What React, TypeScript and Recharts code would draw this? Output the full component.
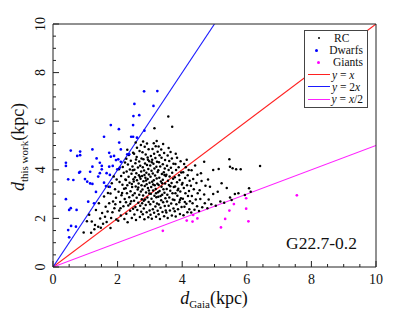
import { Legend, ReferenceLine, Scatter, ScatterChart, XAxis, YAxis } from 'recharts';

// distances, [d_Gaia, d_this_work] in kpc
const rcPoints: [number, number][] = [
  [0.95, 1.42], [1.05, 1.88], [1.18, 1.41], [1.2, 1.87], [1.12, 2.15],
  [1.3, 1.73], [1.4, 1.66], [1.46, 2.0], [1.33, 2.35], [1.42, 2.62], [1.28, 1.55], [1.48, 1.62],
  [1.61, 2.07], [1.69, 2.28], [1.63, 2.48], [1.74, 2.62], [1.55, 1.78], [1.58, 2.9], [1.7, 3.05], [1.52, 2.22], [1.66, 1.85], [1.72, 3.3],
  [1.78, 1.6], [1.8, 2.02], [1.84, 2.25], [1.9, 2.42], [1.86, 2.7], [1.95, 2.85], [1.78, 3.02], [1.92, 3.2], [1.82, 3.45], [1.97, 3.6], [1.88, 3.72], [1.96, 1.95], [1.93, 2.58],
  [2.02, 1.9], [2.1, 2.12], [2.05, 2.32], [2.18, 2.5], [2.08, 2.68], [2.22, 2.8], [2.12, 2.95], [2.03, 3.1], [2.2, 3.22], [2.15, 3.38],
  [2.06, 3.5], [2.24, 3.6], [2.11, 3.75], [2.19, 3.88], [2.04, 4.02], [2.16, 4.12], [2.23, 4.3], [2.09, 2.42], [2.21, 1.98], [2.14, 3.05],
  [2.31, 1.84], [2.44, 2.02], [2.27, 2.19], [2.39, 2.31], [2.48, 2.4], [2.33, 2.53], [2.26, 2.66], [2.42, 2.71], [2.36, 2.87], [2.47, 2.95],
  [2.29, 3.03], [2.4, 3.12], [2.45, 3.29], [2.3, 3.36], [2.37, 3.47], [2.26, 3.58], [2.49, 3.61], [2.34, 3.71], [2.43, 3.84], [2.28, 3.93],
  [2.38, 4.01], [2.46, 4.14], [2.32, 4.22], [2.41, 4.37], [2.27, 4.45], [2.35, 4.61], [2.48, 4.7], [2.3, 4.83], [2.44, 3.42], [2.39, 2.6],
  [2.25, 3.24], [2.47, 3.98],
  [2.57, 1.93], [2.69, 2.06], [2.52, 2.16], [2.73, 2.27], [2.61, 2.35], [2.55, 2.47], [2.7, 2.52], [2.64, 2.64], [2.51, 2.73], [2.75, 2.79],
  [2.59, 2.85], [2.67, 2.97], [2.53, 3.04], [2.72, 3.11], [2.62, 3.19], [2.56, 3.31], [2.74, 3.36], [2.65, 3.44], [2.5, 3.52], [2.6, 3.57],
  [2.71, 3.63], [2.54, 3.69], [2.66, 3.78], [2.58, 3.86], [2.73, 3.93], [2.52, 4.0], [2.63, 4.09], [2.7, 4.17], [2.55, 4.27], [2.67, 4.34],
  [2.74, 4.47], [2.59, 4.53], [2.51, 4.66], [2.68, 4.77], [2.6, 4.91], [2.72, 5.02], [2.56, 5.12], [2.64, 3.27], [2.69, 3.71], [2.57, 4.42],
  [2.83, 1.96], [2.95, 2.05], [2.78, 2.17], [2.9, 2.25], [2.99, 2.33], [2.81, 2.41], [2.87, 2.55], [2.76, 2.62], [2.96, 2.67], [2.85, 2.78],
  [2.92, 2.86], [2.79, 2.94], [2.98, 3.02], [2.88, 3.07], [2.77, 3.19], [2.94, 3.25], [2.84, 3.33], [2.9, 3.41], [2.99, 3.47], [2.8, 3.53],
  [2.93, 3.62], [2.86, 3.67], [2.76, 3.75], [2.97, 3.81], [2.89, 3.88], [2.82, 3.97], [2.95, 4.03], [2.78, 4.11], [2.91, 4.2], [2.85, 4.26],
  [2.98, 4.35], [2.8, 4.43], [2.93, 4.51], [2.87, 4.63], [2.77, 4.72], [2.96, 4.85], [2.84, 4.95], [2.91, 5.08], [2.79, 5.16], [2.88, 3.56],
  [2.97, 3.15], [2.83, 3.79], [2.94, 4.41], [2.81, 2.73],
  [3.06, 1.99], [3.19, 2.07], [3.02, 2.15], [3.13, 2.23], [3.24, 2.31], [3.09, 2.38], [3.17, 2.49], [3.01, 2.58], [3.22, 2.61], [3.11, 2.69],
  [3.05, 2.81], [3.2, 2.87], [3.14, 2.93], [3.03, 3.01], [3.25, 3.08], [3.1, 3.15], [3.18, 3.21], [3.04, 3.29], [3.15, 3.36], [3.23, 3.43],
  [3.07, 3.51], [3.12, 3.57], [3.21, 3.64], [3.02, 3.71], [3.16, 3.77], [3.09, 3.85], [3.24, 3.91], [3.05, 3.96], [3.14, 4.05], [3.2, 4.13],
  [3.01, 4.18], [3.11, 4.25], [3.22, 4.33], [3.07, 4.41], [3.17, 4.49], [3.03, 4.57], [3.13, 4.66], [3.24, 4.74], [3.08, 4.86], [3.18, 4.97],
  [3.12, 5.09], [3.21, 5.19], [3.14, 5.71], [3.1, 3.4], [3.19, 3.03], [3.06, 4.31],
  [3.31, 1.98], [3.44, 2.09], [3.27, 2.17], [3.39, 2.26], [3.49, 2.33], [3.33, 2.44], [3.46, 2.51], [3.28, 2.57], [3.41, 2.66], [3.35, 2.75],
  [3.48, 2.83], [3.26, 2.89], [3.38, 2.97], [3.45, 3.06], [3.3, 3.13], [3.42, 3.2], [3.36, 3.3], [3.27, 3.37], [3.47, 3.44], [3.34, 3.52],
  [3.4, 3.59], [3.29, 3.67], [3.49, 3.74], [3.37, 3.83], [3.43, 3.9], [3.26, 3.98], [3.46, 4.05], [3.32, 4.14], [3.4, 4.23], [3.28, 4.31],
  [3.47, 4.4], [3.36, 4.5], [3.3, 4.6], [3.44, 4.69], [3.35, 4.84], [3.27, 4.96], [3.41, 5.06], [3.38, 3.45], [3.33, 2.92], [3.45, 3.79],
  [3.55, 2.02], [3.68, 2.12], [3.51, 2.24], [3.62, 2.33], [3.73, 2.41], [3.58, 2.52], [3.66, 2.61], [3.53, 2.7], [3.71, 2.78], [3.6, 2.86],
  [3.54, 2.97], [3.7, 3.04], [3.63, 3.14], [3.52, 3.21], [3.74, 3.29], [3.59, 3.37], [3.67, 3.46], [3.56, 3.55], [3.72, 3.63], [3.61, 3.72],
  [3.51, 3.8], [3.69, 3.88], [3.58, 3.99], [3.65, 4.08], [3.53, 4.17], [3.73, 4.25], [3.6, 4.36], [3.68, 4.47], [3.55, 4.59], [3.64, 4.73],
  [3.58, 4.9], [3.57, 6.19], [3.69, 5.77], [3.63, 3.32],
  [3.8, 2.08], [3.93, 2.18], [3.77, 2.29], [3.87, 2.38], [3.98, 2.47], [3.82, 2.58], [3.91, 2.66], [3.76, 2.76], [3.96, 2.83], [3.85, 2.93],
  [3.79, 3.03], [3.94, 3.11], [3.88, 3.22], [3.78, 3.31], [3.99, 3.39], [3.84, 3.49], [3.92, 3.58], [3.77, 3.69], [3.9, 3.78], [3.97, 3.89],
  [3.81, 3.99], [3.89, 4.1], [3.79, 4.24], [3.95, 4.35], [3.84, 4.5], [3.8, 4.66], [3.86, 3.16], [3.93, 2.76],
  [4.04, 2.13], [4.16, 2.25], [4.22, 2.38], [4.07, 2.48], [4.13, 2.6], [4.24, 2.71], [4.02, 2.81], [4.18, 2.92], [4.1, 3.04], [4.21, 3.13],
  [4.05, 3.25], [4.15, 3.36], [4.01, 3.46], [4.23, 3.55], [4.09, 3.66], [4.17, 3.78], [4.03, 3.9], [4.2, 3.99], [4.11, 4.11], [4.06, 4.24],
  [4.14, 4.41], [4.08, 2.68],
  [4.28, 2.24], [4.38, 2.36], [4.46, 2.5], [4.32, 2.62], [4.42, 2.78], [4.3, 2.92], [4.48, 3.04], [4.36, 3.2], [4.27, 3.34], [4.44, 3.46],
  [4.34, 3.62], [4.47, 3.8], [4.29, 3.98], [4.4, 4.18],
  [4.52, 2.3], [4.62, 2.46], [4.7, 2.62], [4.56, 2.8], [4.68, 2.98], [4.54, 3.16], [4.72, 3.34], [4.6, 3.54], [4.68, 4.33], [4.58, 3.86],
  [4.78, 2.42], [4.9, 2.58], [4.82, 2.78], [4.96, 3.0], [4.86, 3.3], [4.96, 3.99], [4.8, 3.6],
  [5.04, 2.52], [5.18, 2.7], [5.1, 3.1], [5.13, 4.03], [5.22, 3.45],
  [5.3, 2.64], [5.48, 2.86], [5.46, 4.43], [5.48, 4.13], [5.38, 3.25],
  [5.56, 4.06], [5.67, 4.02], [5.81, 4.02], [5.63, 3.0], [5.74, 3.03], [5.94, 2.96], [5.53, 2.76],
  [6.07, 3.24], [6.12, 3.1], [6.41, 4.16],
];

const dwarfPoints: [number, number][] = [
  [2.82, 7.23], [3.23, 7.24], [2.52, 6.71], [3.11, 6.63], [2.49, 6.21], [2.67, 6.25], [1.79, 5.84], [2.04, 5.67], [2.48, 5.84], [2.83, 5.61],
  [1.58, 5.36], [2.42, 5.36], [2.48, 5.36], [2.6, 5.32], [2.05, 5.12], [0.55, 4.79], [0.84, 4.75], [0.75, 4.57], [0.84, 4.6], [1.22, 4.84],
  [1.74, 4.7], [1.79, 4.54], [1.89, 4.57], [2.1, 4.84], [2.3, 4.64], [2.36, 4.64], [1.35, 4.47], [1.45, 4.29], [1.51, 4.16], [1.95, 4.4],
  [2.02, 4.43], [2.1, 4.33], [0.4, 4.29], [0.4, 4.16], [1.22, 4.13], [1.74, 4.13], [1.85, 4.16], [2.07, 4.09], [1.99, 4.02], [0.81, 3.88],
  [1.51, 4.02], [1.45, 3.86], [1.66, 3.86], [1.76, 3.79], [0.47, 3.61], [0.63, 3.58], [0.99, 3.62], [1.06, 3.51], [1.15, 3.44], [1.22, 3.42],
  [1.4, 3.72], [1.58, 3.47], [1.15, 3.92], [0.84, 3.92], [1.64, 3.33], [1.76, 3.3], [1.33, 3.09], [0.4, 2.79], [0.55, 2.42], [0.5, 2.35],
  [0.73, 2.35], [1.09, 2.69], [1.27, 2.62], [0.56, 1.69], [0.71, 1.66], [0.47, 1.52], [0.5, 1.22],
];

const giantPoints: [number, number][] = [
  [7.55, 2.95], [5.98, 2.83], [5.6, 2.59], [5.46, 2.32], [5.98, 2.4], [5.33, 1.98], [5.2, 1.63],
  [6.05, 1.88], [4.34, 2.14], [4.47, 2.0], [4.14, 1.91], [4.32, 1.87], [3.4, 1.49],
];

const seriesNames = ['RC', 'Dwarfs', 'Giants'];
const lineNames = ['y = x', 'y = 2x', 'y = x/2'];
// far end of each relation inside the 10 x 10 box (all start at the origin)
const lineEnds: [number, number][] = [[10, 10], [5, 10], [10, 5]];

const tickValues = [0, 0.5, 1, 1.5, 2, 2.5, 3, 3.5, 4, 4.5, 5, 5.5, 6, 6.5, 7, 7.5, 8, 8.5, 9, 9.5, 10];
const labelTicks = [0, 2, 4, 6, 8, 10];
const annotation = 'G22.7-0.2';

const pointColors = ['#000000', '#0000ff', '#ff00ff'];
const lineColors = ['#ff2020', '#1a1aff', '#ff20ff'];
const SERIF = '"Liberation Serif", "DejaVu Serif", serif';
const AXIS = '#222';

const toXY = (pts: [number, number][]) => pts.map(([x, y]) => ({ x, y }));

const tickLen = (v: number) => (labelTicks.includes(v) ? 6 : 3);

function BottomTick({ x, y, payload }: any) {
  const v = payload.value;
  return (
    <g>
      <line x1={x} y1={y} x2={x} y2={y - tickLen(v)} stroke={AXIS} />
      {labelTicks.includes(v) ? (
        <text x={x} y={y + 17} textAnchor="middle" fontSize={14} fontFamily={SERIF} fill="#111">
          {v}
        </text>
      ) : null}
    </g>
  );
}

function TopTick({ x, y, payload }: any) {
  return <line x1={x} y1={y} x2={x} y2={y + tickLen(payload.value)} stroke={AXIS} />;
}

function LeftTick({ x, y, payload }: any) {
  const v = payload.value;
  const tx = x - 8;
  return (
    <g>
      <line x1={x} y1={y} x2={x + tickLen(v)} y2={y} stroke={AXIS} />
      {labelTicks.includes(v) ? (
        <text x={tx} y={y} transform={`rotate(-90 ${tx} ${y})`} textAnchor="middle" fontSize={14} fontFamily={SERIF} fill="#111">
          {v}
        </text>
      ) : null}
    </g>
  );
}

function RightTick({ x, y, payload }: any) {
  return <line x1={x} y1={y} x2={x - tickLen(payload.value)} y2={y} stroke={AXIS} />;
}

function mathLabel(s: string) {
  return s.split(/([xy])/).map((part, i) =>
    part === 'x' || part === 'y' ? <i key={i}>{part}</i> : <span key={i}>{part}</span>,
  );
}

function LegendBox() {
  return (
    <div
      style={{
        border: '1px solid #444',
        background: '#fff',
        padding: '1px 4px 2px 2px',
        fontFamily: SERIF,
        fontSize: 11.5,
        color: '#111',
        lineHeight: '12.2px',
        width: 56,
      }}
    >
      {seriesNames.map((name, i) => (
        <div key={name} style={{ display: 'flex', alignItems: 'center' }}>
          <span style={{ width: 24, display: 'flex', justifyContent: 'center' }}>
            <span style={{ width: 2.5, height: 2.5, borderRadius: 2, background: pointColors[i] }} />
          </span>
          <span style={{ marginLeft: 3 }}>{name}</span>
        </div>
      ))}
      {lineNames.map((name, i) => (
        <div key={name} style={{ display: 'flex', alignItems: 'center' }}>
          <span style={{ width: 22, height: 1, background: lineColors[i], marginLeft: 1 }} />
          <span style={{ marginLeft: 2, whiteSpace: 'nowrap' }}>{mathLabel(name)}</span>
        </div>
      ))}
    </div>
  );
}

const dot = (color: string, r: number) => (props: any) => <circle cx={props.cx} cy={props.cy} r={r} fill={color} />;

export default function App() {
  return (
    <div style={{ position: 'absolute', left: 0, top: 0, width: 415, height: 312, background: '#fff' }}>
      <ScatterChart width={415} height={312} margin={{ top: 23, right: 38, left: 23, bottom: 15 }}>
        <XAxis
          type="number"
          dataKey="x"
          domain={[0, 10]}
          ticks={tickValues}
          interval={0}
          tick={BottomTick}
          tickLine={false}
          tickSize={0}
          tickMargin={0}
          axisLine={{ stroke: AXIS }}
          height={30}
          allowDataOverflow
        />
        <XAxis
          xAxisId="top"
          orientation="top"
          type="number"
          domain={[0, 10]}
          ticks={tickValues}
          interval={0}
          tick={TopTick}
          tickLine={false}
          tickSize={0}
          tickMargin={0}
          axisLine={{ stroke: AXIS }}
          height={1}
        />
        <YAxis
          type="number"
          dataKey="y"
          domain={[0, 10]}
          ticks={tickValues}
          interval={0}
          tick={LeftTick}
          tickLine={false}
          tickSize={0}
          tickMargin={0}
          axisLine={{ stroke: AXIS }}
          width={30}
          allowDataOverflow
        />
        <YAxis
          yAxisId="right"
          orientation="right"
          type="number"
          domain={[0, 10]}
          ticks={tickValues}
          interval={0}
          tick={RightTick}
          tickLine={false}
          tickSize={0}
          tickMargin={0}
          axisLine={{ stroke: AXIS }}
          width={1}
        />
        {lineEnds.map(([ex, ey], i) => (
          <ReferenceLine
            key={lineNames[i]}
            segment={[{ x: 0, y: 0 }, { x: ex, y: ey }]}
            stroke={lineColors[i]}
            strokeWidth={1.1}
            ifOverflow="hidden"
          />
        ))}
        <Scatter name={seriesNames[0]} data={toXY(rcPoints)} shape={dot(pointColors[0], 1.25)} isAnimationActive={false} />
        <Scatter name={seriesNames[1]} data={toXY(dwarfPoints)} shape={dot(pointColors[1], 1.35)} isAnimationActive={false} />
        <Scatter name={seriesNames[2]} data={toXY(giantPoints)} shape={dot(pointColors[2], 1.35)} isAnimationActive={false} />
        <Legend
          layout="vertical"
          align="center"
          verticalAlign="middle"
          content={() => <LegendBox />}
          wrapperStyle={{ left: 304, top: 30, width: 'auto', height: 'auto' }}
        />
      </ScatterChart>
      <div
        style={{
          position: 'absolute',
          left: 214,
          top: 299,
          transform: 'translate(-50%, -50%)',
          fontFamily: SERIF,
          fontSize: 18,
          whiteSpace: 'nowrap',
          color: '#111',
        }}
      >
        <i>d</i>
        <sub style={{ fontSize: 11 }}>Gaia</sub>(kpc)
      </div>
      <div
        style={{
          position: 'absolute',
          left: 19,
          top: 147,
          transform: 'translate(-50%, -50%) rotate(-90deg)',
          fontFamily: SERIF,
          fontSize: 18,
          whiteSpace: 'nowrap',
          color: '#111',
        }}
      >
        <i>d</i>
        <sub style={{ fontSize: 11 }}>this work</sub>(kpc)
      </div>
      <div
        style={{
          position: 'absolute',
          left: 286,
          top: 233,
          fontFamily: SERIF,
          fontSize: 17.5,
          whiteSpace: 'nowrap',
          color: '#111',
        }}
      >
        {annotation}
      </div>
    </div>
  );
}
